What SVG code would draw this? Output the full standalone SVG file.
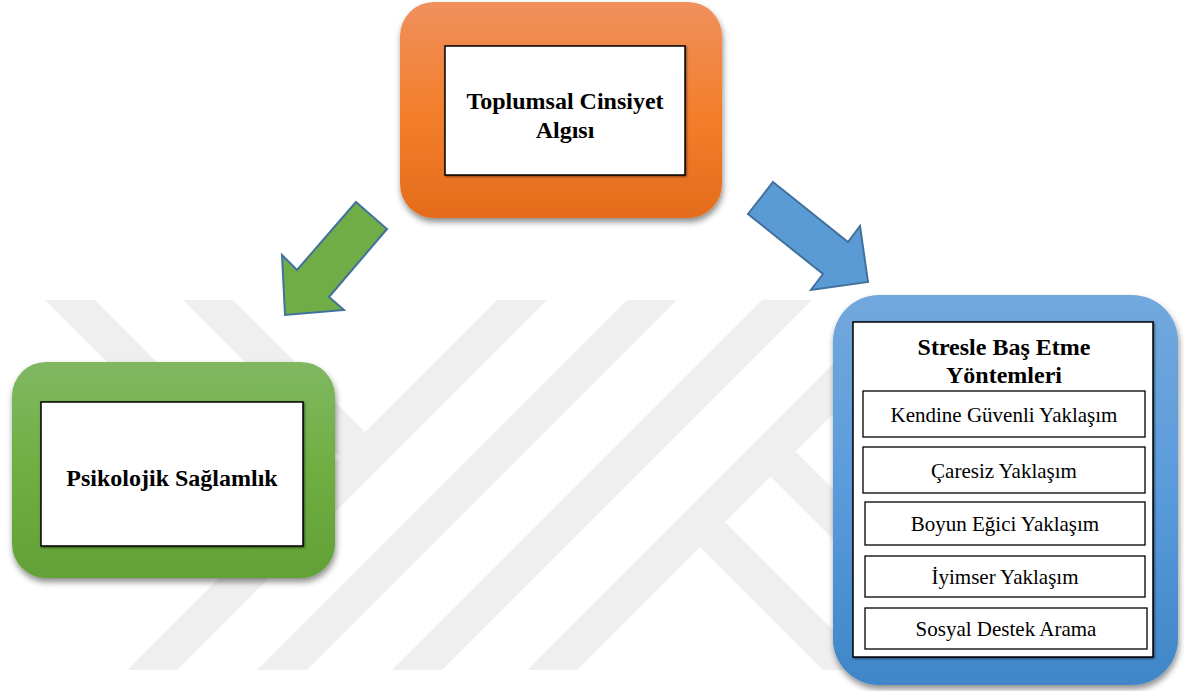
<svg xmlns="http://www.w3.org/2000/svg" width="1184" height="691" viewBox="0 0 1184 691">
  <defs>
    <linearGradient id="gOrange" x1="0" y1="0" x2="0" y2="1">
      <stop offset="0" stop-color="#f0905e"/>
      <stop offset="0.5" stop-color="#f37f2c"/>
      <stop offset="1" stop-color="#e46c1b"/>
    </linearGradient>
    <linearGradient id="gGreen" x1="0" y1="0" x2="0" y2="1">
      <stop offset="0" stop-color="#80b862"/>
      <stop offset="0.5" stop-color="#6fae42"/>
      <stop offset="1" stop-color="#62a136"/>
    </linearGradient>
    <linearGradient id="gBlue" x1="0" y1="0" x2="0" y2="1">
      <stop offset="0" stop-color="#72a8dd"/>
      <stop offset="0.5" stop-color="#5a9bdb"/>
      <stop offset="1" stop-color="#3f86c8"/>
    </linearGradient>
    <filter id="boxShadow" x="-10%" y="-10%" width="125%" height="130%">
      <feDropShadow dx="1" dy="4" stdDeviation="3" flood-color="#000" flood-opacity="0.45"/>
    </filter>
    <filter id="cardShadow" x="-5%" y="-5%" width="110%" height="115%">
      <feDropShadow dx="1" dy="1" stdDeviation="0.8" flood-color="#000" flood-opacity="0.5"/>
    </filter>
    <clipPath id="markClip">
      <rect x="0" y="298" width="1184" height="372"/>
    </clipPath>
  </defs>
  <style>
    .mark { fill: #efefef; }
    .panel { filter: url(#boxShadow); }
    .card { fill: #ffffff; stroke: #000000; stroke-width: 1.5; filter: url(#cardShadow); }
    .item { fill: #ffffff; stroke: #000000; stroke-width: 1.3; }
    .title { font-family: "Liberation Serif", "Times New Roman", serif; font-weight: bold; font-size: 24px; fill: #000; text-anchor: middle; }
    .label { font-family: "Liberation Serif", "Times New Roman", serif; font-size: 21px; fill: #000; text-anchor: middle; }
    .arrow { stroke: #41719c; stroke-width: 2; stroke-linejoin: miter; }
  </style>

  <rect width="1184" height="691" fill="#ffffff"/>

  <!-- faint striped emblem in the background -->
  <g id="watermark" clip-path="url(#markClip)">
    <polygon class="mark" points="45,300 95,300 297.5,502.5 272.5,527.5"/>
    <polygon class="mark" points="183,300 233,300 366.5,433.5 341.5,458.5"/>
    <polygon class="mark" points="497,300 547,300 177,670 127,670"/>
    <polygon class="mark" points="627,300 677,300 307,670 257,670"/>
    <polygon class="mark" points="762,300 812,300 442,670 392,670"/>
    <polygon class="mark" points="897,300 947,300 577,670 527,670"/>
    <polygon class="mark" points="700,547 725,522 873,670 823,670"/>
    <polygon class="mark" points="795.5,451.5 900,556 900,606 770.5,476.5"/>
  </g>

  <!-- top node -->
  <g id="node-toplumsal">
    <rect class="panel" x="400" y="2" width="322" height="216" rx="34" fill="url(#gOrange)"/>
    <rect class="card" x="445" y="46" width="240" height="129"/>
    <text class="title" x="565" y="109">Toplumsal Cinsiyet</text>
    <text class="title" x="565" y="138">Algısı</text>
  </g>

  <!-- left node -->
  <g id="node-psikolojik">
    <rect class="panel" x="12" y="362" width="323" height="216" rx="34" fill="url(#gGreen)"/>
    <rect class="card" x="41" y="402" width="262" height="144"/>
    <text class="title" x="172" y="486">Psikolojik Sağlamlık</text>
  </g>

  <!-- right node with its list of methods -->
  <g id="node-stres">
    <rect class="panel" x="833" y="295" width="345" height="390" rx="46" fill="url(#gBlue)"/>
    <rect class="card" x="853" y="322" width="300" height="335"/>
    <text class="title" x="1004" y="355">Stresle Baş Etme</text>
    <text class="title" x="1004" y="383">Yöntemleri</text>
    <g id="item-kendine">
      <rect class="item" x="863" y="391" width="282" height="46"/>
      <text class="label" x="1004" y="422">Kendine Güvenli Yaklaşım</text>
    </g>
    <g id="item-caresiz">
      <rect class="item" x="863" y="447" width="282" height="46"/>
      <text class="label" x="1004" y="478">Çaresiz Yaklaşım</text>
    </g>
    <g id="item-boyun">
      <rect class="item" x="865" y="502" width="280" height="43"/>
      <text class="label" x="1005" y="531">Boyun Eğici Yaklaşım</text>
    </g>
    <g id="item-iyimser">
      <rect class="item" x="865" y="556" width="280" height="41"/>
      <text class="label" x="1005" y="584">İyimser Yaklaşım</text>
    </g>
    <g id="item-sosyal">
      <rect class="item" x="865" y="608" width="282" height="41"/>
      <text class="label" x="1006" y="636">Sosyal Destek Arama</text>
    </g>
  </g>

  <!-- block arrows -->
  <g id="connectors">
    <polygon class="arrow" fill="#70ad47" points="356,202 387,229 329,297 344,310 285,315 282,255 297,270"/>
    <polygon class="arrow" fill="#5b9bd5" points="773,182 848,242 860,226 868,282 811,290 823,274 748,214"/>
  </g>
</svg>
